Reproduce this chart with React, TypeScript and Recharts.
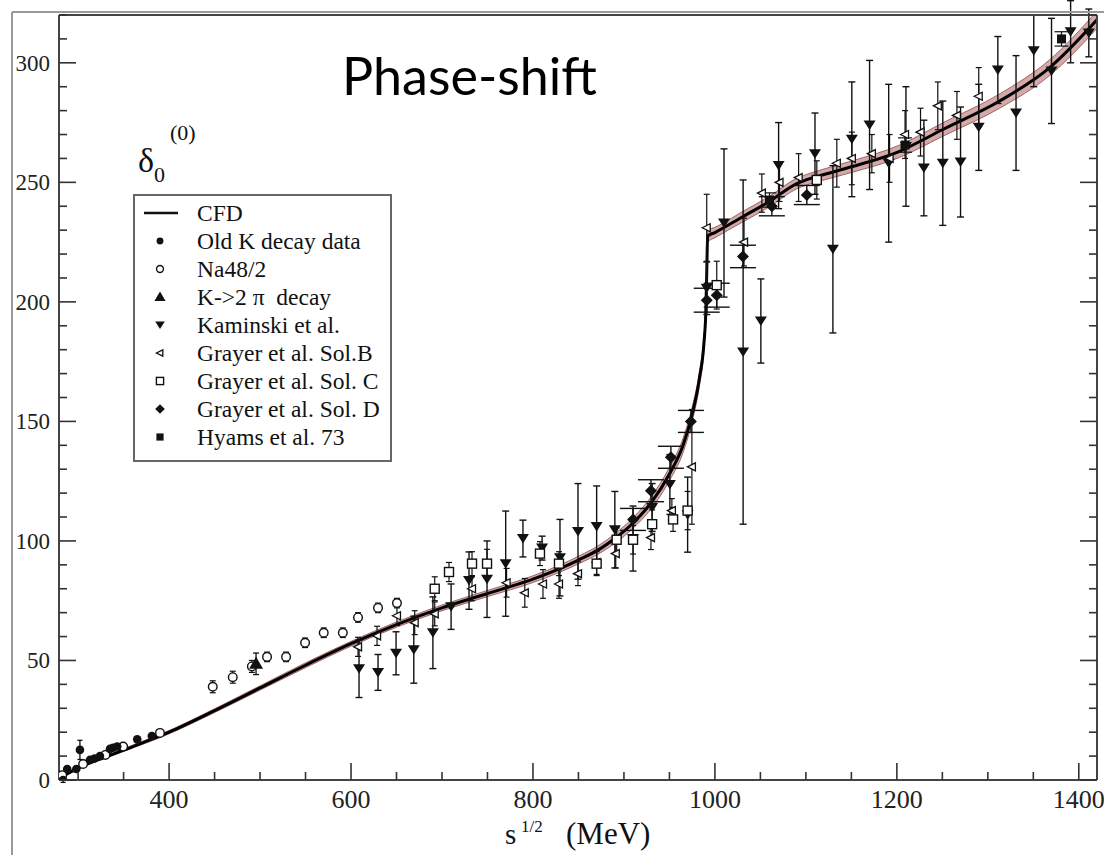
import React from "react";
import { ComposedChart, Line, Area, Scatter, XAxis, YAxis, ErrorBar } from "recharts";

// CFD fit: x (MeV), phase (deg), half-width of the error band
const cfdX = [280, 300, 350, 400, 450, 500, 550, 600, 650, 700, 750, 800, 830, 850, 875, 890, 910, 930, 950, 965, 975, 983, 988, 990, 991, 992, 1000, 1030, 1060, 1090, 1100, 1120, 1150, 1203, 1250, 1313, 1368, 1420];
const cfdY = [1, 5, 12.5, 20, 29, 38.5, 48, 57, 65, 72, 78, 84, 88.5, 92, 97, 101, 107.5, 116, 128, 140, 153, 168, 183, 196, 212, 227.5, 229, 235.5, 242, 249.5, 251, 253.3, 256.5, 263, 272, 284, 298, 318];
const cfdErr = [0.5, 0.5, 0.6, 0.7, 0.8, 0.9, 1, 1, 1.1, 1.2, 1.3, 1.4, 1.5, 1.6, 1.8, 2, 2.2, 2.5, 2.8, 3, 3, 3, 3, 3, 3, 2.5, 2.2, 2.2, 2.2, 2.2, 2.2, 2.3, 2.4, 2.6, 2.8, 3, 3.3, 3.6];

// data sets: [sqrt(s), delta, error]
const oldK = [[283.5, 0, 1], [288, 4.6, 1], [298, 4.6, 1], [302, 12.6, 4], [313, 8.4, 1], [318, 9, 1], [324, 10, 1], [335, 13, 1], [338.5, 13.5, 1], [343, 14, 1], [365, 17, 1], [381, 18.4, 1]];
const na48 = [[282.5, 2], [305.5, 6.7], [330, 10.5], [349.5, 14], [390, 19.7]];
const na48Hi = [[448, 39, 2.5], [470, 43, 2.5], [491, 47.5, 2.5], [507.7, 51.5, 2], [528.6, 51.5, 2], [549.5, 57.4, 2], [570, 61.6, 2], [591, 61.6, 2], [607.7, 68, 2], [629.7, 72, 2], [650.5, 74, 2]];
const k2pi = [[495.6, 48.6, 4.5]];
const kaminski = [
  [608.8, 46.5, 12], [629.7, 45, 7.5], [649.5, 53, 9], [669, 54.5, 14], [690, 61.6, 15], [710, 72.5, 9.5],
  [729.7, 83.4, 12], [749.5, 84, 16], [770, 90.5, 22], [789, 101, 7.7], [810, 97, 5], [829.7, 93, 16],
  [849.5, 104, 20], [870, 106, 17], [890, 104.7, 16], [910, 101, 13.6], [931, 114, 10], [950.5, 123.6, 12.5],
  [970, 111, 15.7], [991, 205.7, 11], [1010, 233, 31], [1031, 179, 72], [1050.5, 192, 17.6], [1070, 257, 18],
  [1110, 262, 17], [1129.7, 222, 35], [1150.5, 268, 24], [1170, 274, 27], [1191, 258, 33], [1210, 265, 25],
  [1229.7, 256, 20], [1250.5, 258, 26], [1270, 258.5, 23], [1290, 273, 18], [1311, 297, 14], [1331, 279, 24],
  [1350.5, 305, 15], [1370, 296.6, 22], [1391, 313, 13], [1411, 312.5, 10],
];
const grayerB = [
  [607.7, 55.7, 4], [628.6, 60.3, 4], [650.5, 68.7, 4], [670, 65.8, 5], [692, 69.5, 5], [733, 80, 5],
  [771, 82.5, 6], [791, 78.3, 6], [811, 82, 6], [828.6, 82, 6], [849.5, 86.3, 5], [870, 91, 5],
  [891, 94.7, 6], [929.7, 101.4, 5], [952.7, 112.7, 5], [974.7, 131, 24], [991, 231, 14], [1032, 225, 10],
  [1051.6, 245.5, 8], [1071, 250, 8], [1092, 252, 10], [1134, 258, 10], [1150.5, 260, 11], [1172.5, 262, 8],
  [1192, 260, 10], [1209, 270, 10], [1226, 271, 10], [1245, 282, 10], [1266, 278, 10], [1290, 286, 12],
];
const grayerC = [
  [692, 80, 5], [707.7, 87, 4], [733, 90.5, 5], [749.5, 90.5, 6], [807.7, 94.7, 5], [828.6, 90.5, 5],
  [870, 90.5, 5], [892, 100.5, 5], [910, 100.5, 6], [931, 107, 6], [954, 109, 5], [970, 112.7, 8],
  [1002, 207, 10], [1112, 251, 8],
];
const grayerD = [[910, 109, 4.6], [929.7, 121, 4.6], [951.6, 135, 4.6], [973.6, 150, 4.6], [991, 200.7, 5], [1002, 202.8, 5], [1030.8, 219, 4.7], [1062.6, 240, 4], [1101, 244.7, 4]];
const hyams = [[1060, 242.6, 3], [1209, 265.6, 3], [1381, 310, 3]];

const xTicks = [300, 350, 400, 450, 500, 550, 600, 650, 700, 750, 800, 850, 900, 950, 1000, 1050, 1100, 1150, 1200, 1250, 1300, 1350, 1400];
const yTicks = [0, 10, 20, 30, 40, 50, 60, 70, 80, 90, 100, 110, 120, 130, 140, 150, 160, 170, 180, 190, 200, 210, 220, 230, 240, 250, 260, 270, 280, 290, 300, 310, 320];

const legendItems = [
  { kind: "line", label: "CFD" },
  { kind: "dot", label: "Old K decay data" },
  { kind: "ring", label: "Na48/2" },
  { kind: "up", label: "K->2 \u03c0  decay" },
  { kind: "down", label: "Kaminski et al." },
  { kind: "left", label: "Grayer et al. Sol.B" },
  { kind: "box", label: "Grayer et al. Sol. C" },
  { kind: "diamond", label: "Grayer et al. Sol. D" },
  { kind: "sq", label: "Hyams et al. 73" },
];

const curve = cfdX.map((x, i) => ({ x, y: cfdY[i], band: [cfdY[i] - cfdErr[i], cfdY[i] + cfdErr[i]] }));
const pts = (arr: number[][]) => arr.map(([x, y, e]) => ({ x, y, e: e ?? 0 }));

const SERIF = "'Liberation Serif', 'DejaVu Serif', serif";
const INK = "#111";

function Marker({ kind, cx, cy, s = 1 }: { kind: string; cx: number; cy: number; s?: number }) {
  switch (kind) {
    case "dot":
      return <circle cx={cx} cy={cy} r={4.3 * s} fill={INK} />;
    case "ring":
      return <circle cx={cx} cy={cy} r={4.3 * s} fill="#fff" stroke={INK} strokeWidth={1.4} />;
    case "up":
      return <polygon points={`${cx},${cy - 7 * s} ${cx - 7 * s},${cy + 5 * s} ${cx + 7 * s},${cy + 5 * s}`} fill={INK} />;
    case "down":
      return <polygon points={`${cx - 6 * s},${cy - 4.5 * s} ${cx + 6 * s},${cy - 4.5 * s} ${cx},${cy + 5 * s}`} fill={INK} />;
    case "left":
      return <polygon points={`${cx - 4.5 * s},${cy} ${cx + 3.5 * s},${cy - 4 * s} ${cx + 3.5 * s},${cy + 4 * s}`} fill="#fff" stroke={INK} strokeWidth={1.3} />;
    case "box":
      return <rect x={cx - 4.5 * s} y={cy - 4.5 * s} width={9 * s} height={9 * s} fill="#fff" stroke={INK} strokeWidth={1.4} />;
    case "diamond":
      return <polygon points={`${cx},${cy - 6 * s} ${cx + 6 * s},${cy} ${cx},${cy + 6 * s} ${cx - 6 * s},${cy}`} fill={INK} />;
    case "sq":
      return <rect x={cx - 4.5 * s} y={cy - 4.5 * s} width={9 * s} height={9 * s} fill={INK} />;
    default:
      return null;
  }
}

const shapeOf = (kind: string) => (p: any) => <Marker kind={kind} cx={p.cx} cy={p.cy} />;

const XTick = (props: any) => {
  const { x, y, payload } = props;
  const v = payload.value as number;
  const major = v % 200 === 0;
  return (
    <g>
      <line x1={x} x2={x} y1={y} y2={y - (major ? 17 : 8)} stroke="#333" strokeWidth={1.6} />
      {major && (
        <text x={x} y={y + 28} textAnchor="middle" fontSize={26} fontFamily={SERIF} fill="#222">
          {v}
        </text>
      )}
    </g>
  );
};

const YTickLeft = (props: any) => {
  const { x, y, payload } = props;
  const v = payload.value as number;
  const major = v % 50 === 0;
  return (
    <g>
      <line x1={x} x2={x + (major ? 17 : 8)} y1={y} y2={y} stroke="#333" strokeWidth={1.6} />
      {major && (
        <text x={x - 9} y={y + 8} textAnchor="end" fontSize={23} fontFamily={SERIF} fill="#222">
          {v}
        </text>
      )}
    </g>
  );
};

const YTickRight = (props: any) => {
  const { x, y, payload } = props;
  const major = (payload.value as number) % 50 === 0;
  return <line x1={x} x2={x - (major ? 17 : 8)} y1={y} y2={y} stroke="#333" strokeWidth={1.6} />;
};

const axisStroke = { stroke: "#444", strokeWidth: 2 };

export default function App() {
  return (
    <div style={{ position: "relative", width: 1104, height: 855, background: "#fff" }}>
      <style>{"body{margin:0;}"}</style>
      <ComposedChart width={1104} height={855} data={curve} margin={{ top: 14, right: 6, bottom: 25, left: 9 }}>
        <XAxis
          xAxisId={0}
          type="number"
          dataKey="x"
          domain={[279, 1420]}
          ticks={xTicks}
          interval={0}
          tick={XTick}
          tickSize={0}
          tickMargin={0}
          tickLine={false}
          axisLine={axisStroke}
          height={50}
          allowDataOverflow
        />
        <XAxis xAxisId="top" orientation="top" type="number" domain={[279, 1420]} tick={false} tickLine={false} axisLine={axisStroke} height={1} allowDataOverflow />
        <YAxis
          yAxisId={0}
          type="number"
          dataKey="y"
          domain={[0, 320]}
          ticks={yTicks}
          interval={0}
          tick={YTickLeft}
          tickSize={0}
          tickMargin={0}
          tickLine={false}
          axisLine={axisStroke}
          width={50}
          allowDataOverflow
        />
        <YAxis
          yAxisId="r"
          orientation="right"
          type="number"
          domain={[0, 320]}
          ticks={yTicks}
          interval={0}
          tick={YTickRight}
          tickSize={0}
          tickMargin={0}
          tickLine={false}
          axisLine={axisStroke}
          width={1}
          allowDataOverflow
        />

        <Area type="monotone" dataKey="band" fill="#c89494" fillOpacity={0.8} stroke="#8c4a4a" strokeWidth={0.8} isAnimationActive={false} />
        <Line type="monotone" dataKey="y" stroke="#000" strokeWidth={3} dot={false} isAnimationActive={false} />

        <Scatter data={pts(na48)} dataKey="y" shape={shapeOf("ring")} isAnimationActive={false} />
        <Scatter data={pts(na48Hi)} dataKey="y" shape={shapeOf("ring")} isAnimationActive={false}>
          <ErrorBar dataKey="e" direction="y" width={3} stroke={INK} strokeWidth={1.2} />
        </Scatter>
        <Scatter data={pts(oldK)} dataKey="y" shape={shapeOf("dot")} isAnimationActive={false}>
          <ErrorBar dataKey="e" direction="y" width={2.5} stroke={INK} strokeWidth={1.3} />
        </Scatter>
        <Scatter data={pts(k2pi)} dataKey="y" shape={shapeOf("up")} isAnimationActive={false}>
          <ErrorBar dataKey="e" direction="y" width={3} stroke={INK} strokeWidth={1.3} />
        </Scatter>
        <Scatter data={pts(kaminski)} dataKey="y" shape={shapeOf("down")} isAnimationActive={false}>
          <ErrorBar dataKey="e" direction="y" width={3.5} stroke={INK} strokeWidth={1.4} />
        </Scatter>
        <Scatter data={pts(grayerB)} dataKey="y" shape={shapeOf("left")} isAnimationActive={false}>
          <ErrorBar dataKey="e" direction="y" width={3} stroke={INK} strokeWidth={1.2} />
        </Scatter>
        <Scatter data={pts(grayerC)} dataKey="y" shape={shapeOf("box")} isAnimationActive={false}>
          <ErrorBar dataKey="e" direction="y" width={3} stroke={INK} strokeWidth={1.2} />
        </Scatter>
        <Scatter data={pts(grayerD)} dataKey="y" shape={shapeOf("diamond")} isAnimationActive={false}>
          <ErrorBar dataKey="e" direction="y" width={13} stroke={INK} strokeWidth={1.4} />
        </Scatter>
        <Scatter data={pts(hyams)} dataKey="y" shape={shapeOf("sq")} isAnimationActive={false}>
          <ErrorBar dataKey="e" direction="y" width={7} stroke={INK} strokeWidth={1.2} />
        </Scatter>
      </ComposedChart>

      <svg width={1104} height={855} style={{ position: "absolute", left: 0, top: 0, pointerEvents: "none" }}>
        <line x1={12} y1={12} x2={1104} y2={12} stroke="#999" strokeWidth={2} />
        <line x1={12} y1={12} x2={12} y2={855} stroke="#999" strokeWidth={2} />

        <text x={342} y={95} fontSize={52} fontFamily="Lato, 'Open Sans', sans-serif" fill="#000">
          Phase-shift
        </text>

        <text x={138} y={172} fontSize={34} fontFamily={SERIF} fill={INK}>
          δ<tspan fontSize={22} dy={10}>0</tspan>
        </text>
        <text x={170} y={140} fontSize={22} fontFamily={SERIF} fill={INK}>
          (0)
        </text>

        <text x={505} y={844} fontSize={29} fontFamily={SERIF} fill={INK}>
          s
        </text>
        <text x={521} y={832} fontSize={17} fontFamily={SERIF} fill={INK}>
          1/2
        </text>
        <text x={566} y={844} fontSize={31} fontFamily={SERIF} fill={INK}>
          (MeV)
        </text>

        <g transform="translate(134,195)">
          <rect x={0} y={0} width={257} height={266} fill="#fff" stroke="#666" strokeWidth={2} />
          {legendItems.map((it, i) => {
            const cy = 18 + i * 28;
            return (
              <g key={it.label}>
                {it.kind === "line" ? (
                  <line x1={10} x2={44} y1={cy} y2={cy} stroke={INK} strokeWidth={2.5} />
                ) : (
                  <Marker kind={it.kind} cx={26} cy={cy} s={0.8} />
                )}
                <text x={63} y={cy + 8} fontSize={23.5} fontFamily={SERIF} fill={INK} style={{ whiteSpace: "pre" }}>
                  {it.label}
                </text>
              </g>
            );
          })}
        </g>
      </svg>
    </div>
  );
}
